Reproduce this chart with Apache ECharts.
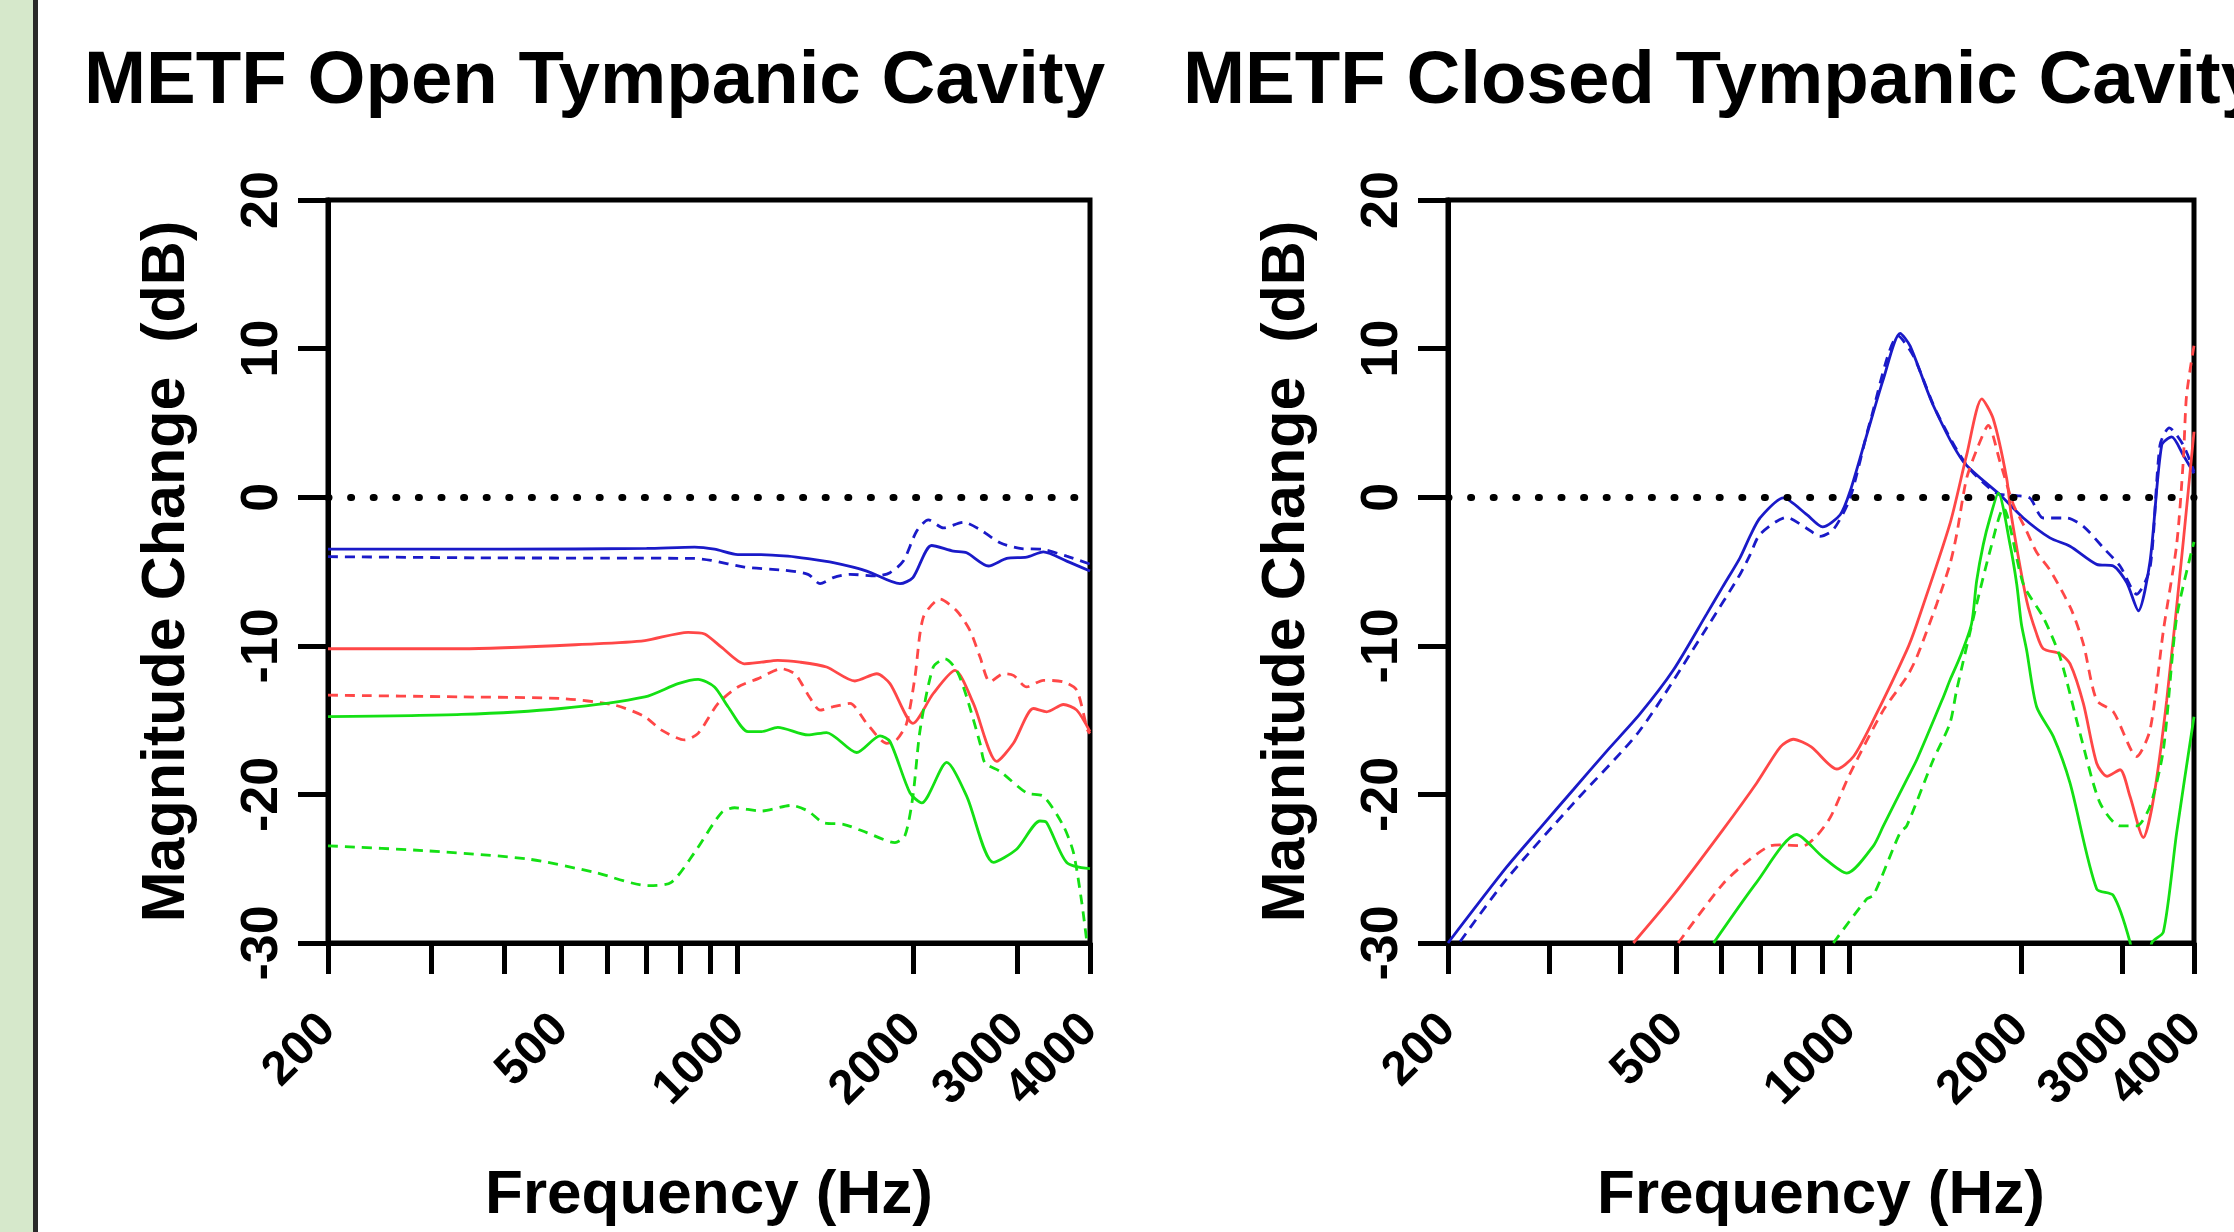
<!DOCTYPE html>
<html>
<head>
<meta charset="utf-8">
<script src="https://cdn.jsdelivr.net/npm/echarts@6/dist/echarts.min.js"></script>
<style>
  html, body { margin: 0; padding: 0; background: #fff; }
  #main { width: 2234px; height: 1232px; }
</style>
</head>
<body>
<div id="main"></div>
<script>
// tick marks and labels on the frequency axis (Hz)
const freqTicks = [200, 300, 400, 500, 600, 700, 800, 900, 1000, 2000, 3000, 4000]
const freqLabels = [200, 500, 1000, 2000, 3000, 4000]
const titles = ['METF Open Tympanic Cavity', 'METF Closed Tympanic Cavity']

// open cavity, [Hz, dB]
const openBlueSolid = [[200, -3.5], [400, -3.5], [700, -3.45], [845, -3.36], [914, -3.5], [1002, -3.86], [1097, -3.86], [1220, -3.97], [1320, -4.14], [1458, -4.41], [1663, -4.97], [1895, -5.82], [1994, -5.41], [2146, -3.25], [2338, -3.63], [2463, -3.74], [2683, -4.63], [2883, -4.12], [3118, -4.03], [3330, -3.68], [3650, -4.3], [4000, -4.97]]
const openBlueDashed = [[200, -4.0], [361, -4.08], [600, -4.1], [845, -4.12], [902, -4.25], [1028, -4.7], [1205, -4.92], [1320, -5.19], [1384, -5.82], [1458, -5.41], [1557, -5.19], [1730, -5.3], [1822, -5.08], [1920, -4.3], [2023, -2.29], [2119, -1.52], [2248, -2.07], [2432, -1.69], [2596, -2.18], [2808, -3.07], [3038, -3.45], [3330, -3.52], [3650, -3.97], [4000, -4.5]]
const openRedSolid = [[200, -10.2], [338, -10.2], [571, -9.87], [695, -9.65], [824, -9.09], [879, -9.2], [939, -10.09], [1028, -11.21], [1099, -11.1], [1172, -10.98], [1279, -11.1], [1420, -11.43], [1587, -12.37], [1730, -11.88], [1822, -12.55], [1994, -15.22], [2160, -13.21], [2353, -11.65], [2529, -13.88], [2772, -17.78], [2960, -16.56], [3202, -14.22], [3374, -14.44], [3603, -13.95], [3797, -14.33], [4000, -15.78]]
const openRedDashed = [[200, -13.32], [338, -13.44], [500, -13.55], [617, -13.99], [695, -14.77], [741, -15.66], [813, -16.33], [857, -15.89], [927, -13.88], [1002, -12.77], [1085, -12.21], [1189, -11.54], [1253, -11.88], [1290, -12.6], [1330, -13.5], [1384, -14.33], [1458, -14.1], [1557, -13.88], [1663, -15.22], [1799, -16.56], [1870, -16.33], [1945, -15.22], [2010, -12.1], [2077, -8.09], [2218, -6.86], [2368, -7.64], [2496, -8.98], [2596, -10.76], [2700, -12.43], [2845, -11.88], [2960, -11.99], [3118, -12.77], [3330, -12.32], [3603, -12.43], [3797, -12.99], [3960, -15.66], [4000, -15.9]]
const openGreenSolid = [[200, -14.77], [338, -14.62], [500, -14.22], [695, -13.44], [792, -12.55], [857, -12.26], [914, -12.77], [964, -14.1], [1043, -15.78], [1099, -15.78], [1172, -15.49], [1320, -16.0], [1420, -15.84], [1598, -17.18], [1752, -16.06], [1822, -16.44], [1971, -19.9], [2064, -20.57], [2277, -17.85], [2463, -20.12], [2736, -24.58], [2997, -23.69], [3286, -21.79], [3374, -21.9], [3650, -24.58], [4000, -25.0]]
const openGreenDashed = [[200, -23.46], [296, -23.8], [439, -24.35], [571, -25.25], [704, -26.14], [771, -25.92], [845, -23.91], [939, -21.24], [989, -20.9], [1099, -21.12], [1236, -20.74], [1320, -21.12], [1402, -21.9], [1517, -22.01], [1663, -22.57], [1858, -23.24], [1932, -22.79], [1994, -20.12], [2051, -15.66], [2160, -11.43], [2262, -10.88], [2368, -11.65], [2463, -13.44], [2596, -16.56], [2647, -17.89], [2808, -18.45], [3118, -19.9], [3330, -20.12], [3603, -22.12], [3748, -23.91], [3872, -27.25], [3950, -29.9]]

// closed cavity, [Hz, dB]
const closedBlueSolid = [[200, -30], [253, -24.9], [289, -22.3], [331, -19.67], [378, -17.1], [432, -14.6], [494, -11.65], [565, -7.87], [604, -5.97], [646, -4.08], [673, -2.6], [700, -1.4], [769, -0.05], [845, -1.18], [900, -2.0], [966, -1.18], [1005, 0.38], [1075, 4.2], [1149, 7.95], [1229, 11.03], [1279, 10.18], [1404, 6.17], [1584, 2.39], [1835, 0.16], [2016, -1.4], [2243, -2.74], [2431, -3.3], [2706, -4.52], [2893, -4.63], [3053, -5.75], [3199, -7.64], [3353, -4.3], [3513, 3.5], [3657, 4.06], [3832, 2.83], [4000, 1.6]]
const closedBlueDashed = [[210, -29.9], [253, -25.7], [331, -20.6], [432, -15.7], [565, -8.8], [646, -5.2], [673, -3.86], [700, -2.5], [779, -1.36], [845, -2.1], [891, -2.63], [940, -2.18], [1005, -0.07], [1089, 5.06], [1220, 10.85], [1296, 9.51], [1423, 5.73], [1605, 2.16], [1811, 0.27], [1963, 0.11], [2071, -0.07], [2184, -1.4], [2399, -1.4], [2565, -1.96], [2780, -3.41], [2972, -4.63], [3178, -6.53], [3353, -4.75], [3489, 3.5], [3622, 4.66], [3832, 3.5], [4000, 1.72]]
const closedRedSolid = [[421, -30], [494, -26.8], [604, -22.35], [691, -19.23], [760, -16.8], [800, -16.29], [860, -16.8], [953, -18.29], [1019, -17.45], [1104, -14.99], [1262, -10.31], [1314, -8.53], [1501, -1.8], [1605, 2.83], [1706, 6.62], [1786, 5.28], [1885, 1.27], [1920, -1.2], [2043, -6.97], [2126, -9.2], [2184, -10.2], [2336, -10.54], [2431, -11.2], [2565, -13.88], [2706, -17.9], [2820, -18.78], [2972, -18.34], [3093, -20.12], [3264, -22.9], [3398, -20.34], [3585, -13.66], [3832, -2.96], [4000, 4.4]]
const closedRedDashed = [[504, -30], [604, -26.0], [673, -24.35], [729, -23.46], [759, -23.4], [833, -23.46], [879, -22.79], [930, -21.5], [1005, -18.6], [1149, -14.33], [1262, -12.1], [1314, -10.76], [1423, -7.2], [1501, -4.52], [1542, -2.52], [1605, 1.27], [1680, 3.4], [1751, 4.83], [1835, 2.39], [1937, -0.5], [2030, -2.07], [2126, -3.7], [2243, -4.9], [2440, -7.5], [2565, -9.87], [2706, -13.66], [2893, -14.44], [3178, -17.45], [3353, -15.66], [3537, -8.98], [3731, -3.19], [3832, 2.5], [3882, 6.84], [4000, 10.2]]
const closedGreenSolid = [[581, -30], [691, -25.9], [811, -22.7], [900, -24.2], [992, -25.3], [1104, -23.46], [1149, -22.12], [1262, -19.0], [1314, -17.67], [1462, -13.44], [1501, -12.32], [1563, -10.76], [1637, -8.53], [1671, -5.64], [1716, -3.19], [1763, -1.4], [1823, 0.27], [1911, -3.19], [1963, -5.86], [2000, -8.53], [2043, -10.31], [2126, -14.1], [2274, -16.11], [2431, -19.23], [2706, -26.36], [2893, -26.8], [3093, -29.93], [3200, -33], [3300, -33], [3375, -30], [3537, -29.26], [3731, -22.57], [4000, -14.77]]
const closedGreenDashed = [[940, -30], [1075, -27.03], [1104, -26.8], [1229, -22.57], [1262, -22.12], [1404, -17.67], [1501, -15.22], [1542, -12.99], [1671, -7.2], [1763, -3.63], [1860, -0.74], [2016, -5.86], [2184, -8.09], [2336, -10.76], [2531, -15.89], [2742, -20.57], [2972, -22.12], [3178, -22.12], [3353, -20.79], [3537, -17.0], [3731, -8.09], [4000, -3.0]]

const blue = '#1a1ac8'
const red = '#ff4747'
const green = '#14e014'
const font = 'Liberation Sans'

const myChart = echarts.init(document.getElementById('main'))

function line (data, color, dashed, idx) {
  return {
    type: 'line',
    xAxisIndex: idx,
    yAxisIndex: idx,
    data: data,
    showSymbol: false,
    smooth: 0.25,
    clip: true,
    lineStyle: { color: color, width: 2.8, type: dashed ? [10, 7] : 'solid' }
  }
}

// dotted 0 dB line
function zeroLine (idx) {
  return {
    type: 'line',
    xAxisIndex: idx,
    yAxisIndex: idx,
    data: [],
    markLine: {
      silent: true,
      symbol: 'none',
      label: { show: false },
      data: [{ yAxis: 0 }],
      lineStyle: { color: '#000', width: 7, type: [1, 21.6], cap: 'round' }
    }
  }
}

function xAxis (idx) {
  return {
    type: 'log',
    logBase: 10,
    gridIndex: idx,
    min: 200,
    max: 4000,
    name: 'Frequency (Hz)',
    nameLocation: 'middle',
    nameGap: 222,
    nameTextStyle: { fontSize: 62, fontWeight: 'bold', color: '#000', fontFamily: font },
    axisLine: { onZero: false, lineStyle: { color: '#000', width: 5 } },
    axisTick: { customValues: freqTicks, length: 31, lineStyle: { color: '#000', width: 5 } },
    axisLabel: {
      customValues: freqLabels,
      rotate: 45,
      margin: 79,
      fontSize: 48,
      fontWeight: 'bold',
      color: '#000',
      fontFamily: font,
      hideOverlap: false,
      formatter: v => String(Math.round(v))
    },
    splitLine: { show: false },
    minorTick: { show: false }
  }
}

function yAxis (idx) {
  return {
    type: 'value',
    gridIndex: idx,
    min: -30,
    max: 20,
    interval: 10,
    name: 'Magnitude Change  (dB)',
    nameLocation: 'middle',
    nameGap: 130,
    nameTextStyle: { fontSize: 61, fontWeight: 'bold', color: '#000', fontFamily: font },
    axisLine: { show: true, onZero: false, lineStyle: { color: '#000', width: 5 } },
    axisTick: { show: true, length: 30, lineStyle: { color: '#000', width: 5 } },
    axisLabel: { rotate: 90, margin: 39, fontSize: 52, fontWeight: 'bold', color: '#000', fontFamily: font },
    splitLine: { show: false }
  }
}

const titleStyle = { fontSize: 74.5, fontWeight: 'bold', color: '#000', fontFamily: font }

const option = {
  animation: false,
  backgroundColor: '#fff',
  textStyle: { fontFamily: font },
  title: [
    { text: titles[0], left: 79, top: 40, textStyle: titleStyle },
    { text: titles[1], left: 1178, top: 40, textStyle: titleStyle }
  ],
  grid: [
    { left: 328, top: 200, width: 762, height: 748, show: true, borderColor: '#000', borderWidth: 5 },
    { left: 1448, top: 200, width: 746, height: 748, show: true, borderColor: '#000', borderWidth: 5 }
  ],
  xAxis: [xAxis(0), xAxis(1)],
  yAxis: [yAxis(0), yAxis(1)],
  graphic: [
    { type: 'rect', shape: { x: 0, y: 0, width: 33, height: 1232 }, style: { fill: '#d6e8cb' } },
    { type: 'rect', shape: { x: 33, y: 0, width: 5, height: 1232 }, style: { fill: '#2a2a2a' } }
  ],
  series: [
    zeroLine(0),
    line(openBlueSolid, blue, false, 0),
    line(openBlueDashed, blue, true, 0),
    line(openRedSolid, red, false, 0),
    line(openRedDashed, red, true, 0),
    line(openGreenSolid, green, false, 0),
    line(openGreenDashed, green, true, 0),
    zeroLine(1),
    line(closedBlueSolid, blue, false, 1),
    line(closedBlueDashed, blue, true, 1),
    line(closedRedSolid, red, false, 1),
    line(closedRedDashed, red, true, 1),
    line(closedGreenSolid, green, false, 1),
    line(closedGreenDashed, green, true, 1)
  ]
}
myChart.setOption(option)
</script>
</body>
</html>
